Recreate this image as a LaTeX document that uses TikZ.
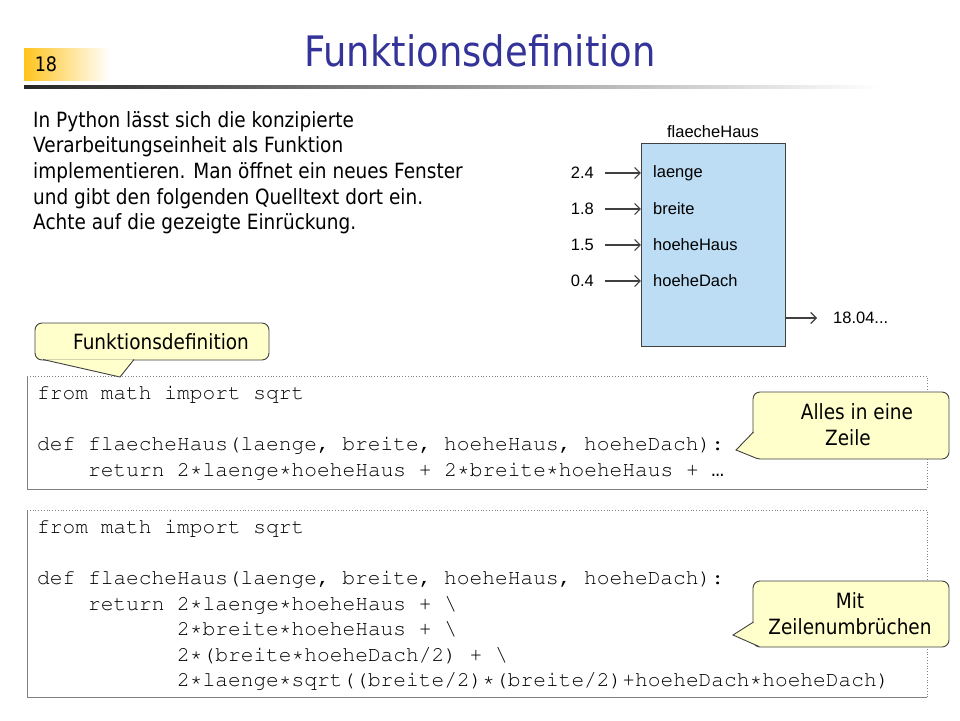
\documentclass[tikz,border=0pt]{standalone}
\usepackage[T1]{fontenc}
\usepackage{fontspec}
\setmainfont[FakeStretch=0.88]{DejaVu Sans}
\setsansfont{Liberation Sans}
\setmonofont{Liberation Mono}
\newcommand{\cour}{\fontencoding{T1}\fontfamily{pcr}\selectfont}
\usetikzlibrary{arrows.meta,positioning}
\definecolor{titleblue}{RGB}{51,51,153}
\definecolor{pagegold}{RGB}{255,196,30}
\definecolor{boxblue}{RGB}{189,221,245}
\definecolor{callyellow}{RGB}{255,255,204}
\definecolor{linegray}{RGB}{64,64,64}
\definecolor{codegray}{RGB}{128,128,128}
\tikzset{every node/.style={inner sep=0pt},
  txt/.style={font=\fontsize{21}{25.7}\selectfont},
  lbl/.style={font=\sffamily\fontsize{16.5}{18}\selectfont},
  code/.style={font=\cour\fontsize{21.2}{25}\selectfont, anchor=base west},
  callout/.style={draw=linegray, fill=callyellow, rounded corners=7pt, line width=0.9pt},
  arr/.style={linegray, line width=1.1pt, -{Straight Barb[length=5.5pt,width=11pt]}}}

\begin{document}
\begin{tikzpicture}[x=1pt,y=-1pt]
   \useasboundingbox (0,0) rectangle (960,720);
   % header
   \shade[left color=pagegold, right color=white] (24,48) rectangle (110,80);
   \shade[left color=black!85, right color=white] (24,85) rectangle (880,88);
   \node (pagenr) at (46,64) {\fontsize{20}{20}\selectfont 18};
   \node[anchor=base, text=titleblue, font=\fontsize{42}{44}\selectfont] (title) at (480,66) {Funktionsdefinition};
   \node[txt, anchor=north west, align=left] (intro) at (33,111)
     {In Python lässt sich die konzipierte\\Verarbeitungseinheit als Funktion\\implementieren. Man öffnet ein neues Fenster\\und gibt den folgenden Quelltext dort ein.\\Achte auf die gezeigte Einrückung.};

   % function box
   \draw[linegray, line width=1pt, fill=boxblue] (641,143) rectangle (785,346);
   \node (fb) at (713,244.5) [minimum width=144pt, minimum height=203pt] {};
   \node[lbl, anchor=south] (fname) at (713,138) {flaecheHaus};
   \node[lbl, anchor=west] (p1) at (653,173) {laenge};
   \node[lbl, anchor=west] (p2) at (653,209) {breite};
   \node[lbl, anchor=west] (p3) at (653,245) {hoeheHaus};
   \node[lbl, anchor=west] (p4) at (653,281) {hoeheDach};
   \node[lbl, anchor=east, inner xsep=11pt] (v1) at (605,173) {2.4};
   \node[lbl, anchor=east, inner xsep=11pt] (v2) at (605,209) {1.8};
   \node[lbl, anchor=east, inner xsep=11pt] (v3) at (605,245) {1.5};
   \node[lbl, anchor=east, inner xsep=11pt] (v4) at (605,281) {0.4};
   \draw[arr] (v1.east) -- (v1.east -| fb.west);
   \draw[arr] (v2.east) -- (v2.east -| fb.west);
   \draw[arr] (v3.east) -- (v3.east -| fb.west);
   \draw[arr] (v4.east) -- (v4.east -| fb.west);
   \node[lbl, anchor=west, inner xsep=16pt] (res) at (817,318) {18.04...};
   \draw[arr] (res.west -| fb.east) -- (res.west);

   % code box 1
   \draw[codegray, line width=0.8pt] (27,376) -- (27,489) -- (927,489);
   \draw[codegray, line width=0.8pt, dotted] (27,376) -- (927,376) -- (927,489);
   \node[code] (a1) at (37,399) {from math import sqrt};
   \node[code] (a2) at (37,450) {def flaecheHaus(laenge, breite, hoeheHaus, hoeheDach):};
   \node[code] (a3) at (88,476) {return 2*laenge*hoeheHaus + 2*breite*hoeheHaus + {\ttfamily …}};

   % code box 2
   \draw[codegray, line width=0.8pt] (27,510) -- (27,697) -- (927,697);
   \draw[codegray, line width=0.8pt, dotted] (27,510) -- (927,510) -- (927,697);
   \node[code] (b1) at (37,533) {from math import sqrt};
   \node[code] (b2) at (37,584) {def flaecheHaus(laenge, breite, hoeheHaus, hoeheDach):};
   \node[code] (b3) at (88,610) {return 2*laenge*hoeheHaus + \textbackslash};
   \node[code] (b4) at (177,635) {2*breite*hoeheHaus + \textbackslash};
   \node[code] (b5) at (177,661) {2*(breite*hoeheDach/2) + \textbackslash};
   \node[code] (b6) at (177,686) {2*laenge*sqrt((breite/2)*(breite/2)+hoeheDach*hoeheDach)};

   % callouts
   \draw[callout] (35,323) rectangle (269,360);
   \fill[callyellow] (43,359.5) -- (120,377) -- (134,359.5) -- cycle;
   \draw[linegray, line width=0.9pt] (43,359.5) -- (120,377) -- (134,359.5);
   \node[txt] (cf) at (161,342) {Funktionsdefinition};

   \draw[callout] (753,392) rectangle (949,459);
   \fill[callyellow] (753.5,432) -- (736,450) -- (757,458.5) -- cycle;
   \draw[linegray, line width=0.9pt] (753.5,432) -- (736,450) -- (757,458.5);
   \node[txt, align=center] (ca) at (857,425) {Alles in eine\\\hspace*{-18pt}Zeile};

   \draw[callout] (753,581) rectangle (949,647);
   \fill[callyellow] (753.5,622) -- (733,635) -- (759,646.5) -- cycle;
   \draw[linegray, line width=0.9pt] (753.5,622) -- (733,635) -- (759,646.5);
   \node[txt, align=center] (cm) at (850,614) {Mit\\Zeilenumbrüchen};
\end{tikzpicture}
\end{document}
